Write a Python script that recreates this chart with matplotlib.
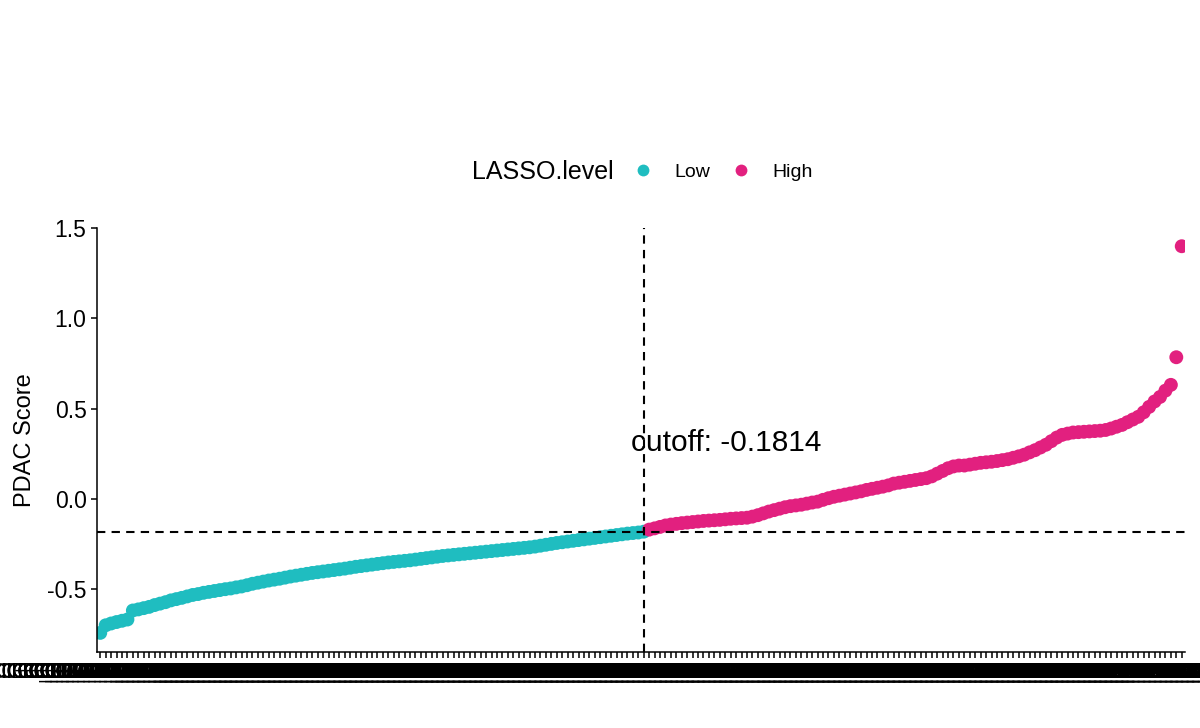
import matplotlib
matplotlib.use("Agg")
import matplotlib.pyplot as plt
from matplotlib.lines import Line2D

plt.rcParams['font.family'] = ['Liberation Sans', 'DejaVu Sans']
plt.rcParams['axes.unicode_minus'] = False

# ---- data ----
low_scores = [
    -0.742, -0.700, -0.690, -0.682, -0.675, -0.668, -0.618, -0.612, -0.605, -0.598,
    -0.588, -0.580, -0.572, -0.562, -0.555, -0.548, -0.540, -0.532, -0.527, -0.520,
    -0.515, -0.510, -0.505, -0.500, -0.496, -0.490, -0.485, -0.478, -0.470, -0.464,
    -0.458, -0.452, -0.447, -0.442, -0.436, -0.430, -0.425, -0.420, -0.415, -0.410,
    -0.406, -0.402, -0.398, -0.394, -0.390, -0.386, -0.381, -0.376, -0.372, -0.368,
    -0.364, -0.360, -0.356, -0.352, -0.349, -0.346, -0.343, -0.340, -0.336, -0.332,
    -0.328, -0.324, -0.320, -0.316, -0.313, -0.310, -0.307, -0.304, -0.301, -0.298,
    -0.295, -0.292, -0.289, -0.286, -0.283, -0.280, -0.277, -0.274, -0.271, -0.268,
    -0.264, -0.259, -0.254, -0.249, -0.244, -0.240, -0.236, -0.232, -0.228, -0.224,
    -0.220, -0.216, -0.212, -0.208, -0.204, -0.200, -0.196, -0.192, -0.189, -0.186,
    -0.1814,
]
high_scores = [
    -0.170, -0.163, -0.155, -0.147, -0.142, -0.138, -0.134, -0.131, -0.128, -0.125,
    -0.122, -0.120, -0.118, -0.116, -0.113, -0.110, -0.108, -0.106, -0.104, -0.098,
    -0.090, -0.080, -0.070, -0.062, -0.054, -0.046, -0.040, -0.036, -0.032, -0.026,
    -0.020, -0.015, -0.005, 0.004, 0.012, 0.018, 0.024, 0.030, 0.036, 0.042,
    0.050, 0.056, 0.062, 0.068, 0.075, 0.085, 0.090, 0.095, 0.100, 0.105,
    0.110, 0.115, 0.125, 0.140, 0.155, 0.170, 0.180, 0.185, 0.185, 0.190,
    0.195, 0.200, 0.203, 0.206, 0.210, 0.215, 0.220, 0.228, 0.236, 0.245,
    0.258, 0.270, 0.285, 0.300, 0.320, 0.340, 0.355, 0.362, 0.368, 0.370,
    0.372, 0.374, 0.376, 0.378, 0.382, 0.390, 0.400, 0.410, 0.425, 0.440,
    0.455, 0.480, 0.510, 0.540, 0.565, 0.600, 0.632, 0.785, 1.400,
]
cutoff = -0.1814
group_labels = ["Low", "High"]
group_colors = ["#1FBDC0", "#E2207F"]
y_ticks = [-0.5, 0.0, 0.5, 1.0, 1.5]
y_tick_labels = ["-0.5", "0.0", "0.5", "1.0", "1.5"]

n_low = len(low_scores)
n_high = len(high_scores)
n_total = n_low + n_high
sample_ids = [f"ICGC_PACA_AU_{k:04d}" for k in range(1, n_total + 1)]

x_low = list(range(1, n_low + 1))
x_high = list(range(n_low + 1, n_total + 1))

# ---- figure ----
fig = plt.figure(figsize=(12, 7.28), dpi=100)
ax = fig.add_axes([97/1200, 1 - 652/728, (1185 - 97)/1200, (652 - 228)/728])

ax.scatter(x_low, low_scores, s=100, color=group_colors[0], edgecolors='none', zorder=2)
ax.scatter(x_high, high_scores, s=100, color=group_colors[1], edgecolors='none', zorder=2)

ax.axhline(cutoff, color='black', lw=1.5, dashes=(4, 3), zorder=3)
ax.axvline(n_low, color='black', lw=1.5, dashes=(4, 3), zorder=3)
ax.annotate(f"cutoff: {cutoff}", xy=(n_low, 0.31), xytext=(-9.4, 0),
            textcoords='offset points', ha='left', va='center', fontsize=21.5, zorder=4)

ax.set_xlim(0.4, n_total + 0.6)
ax.set_ylim(-0.848, 1.501)
ax.set_yticks(y_ticks)
ax.set_yticklabels(y_tick_labels, fontsize=16.5)
ax.set_xticks(range(1, n_total + 1))
ax.set_xticklabels(sample_ids, fontsize=16, rotation=0)
ax.tick_params(axis='x', length=4.5, width=1.1, pad=2.5)
ax.tick_params(axis='y', length=4.5, width=1.1, pad=3)
ax.set_ylabel("PDAC Score", fontsize=17, labelpad=8)

for side in ['top', 'right']:
    ax.spines[side].set_visible(False)
for side in ['left', 'bottom']:
    ax.spines[side].set_linewidth(1.1)

# ---- legend ----
fig.text(472/1200, 1 - 172/728, "LASSO.level", fontsize=18, ha='left', va='center')
handles = [Line2D([], [], marker='o', linestyle='none', markersize=8.5,
                  markerfacecolor=c, markeredgecolor='none') for c in group_colors]
fig.legend(handles, group_labels, loc='center left',
           bbox_to_anchor=(637/1200, 1 - 172/728), ncol=2, frameon=False,
           fontsize=14, handlelength=0.6, handletextpad=1.3, columnspacing=1.3,
           borderpad=0, borderaxespad=0)

fig.savefig("out.png", dpi=100)
